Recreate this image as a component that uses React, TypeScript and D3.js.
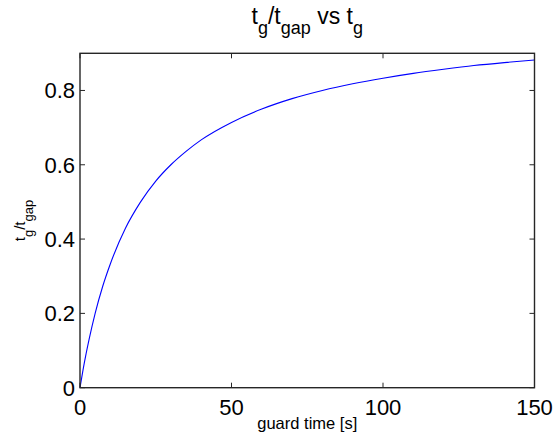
import React from "react";
import * as d3 from "d3";

const guardTime = [0, 1, 2, 3, 5, 7.5, 10, 15, 20, 25, 30, 35, 40, 50, 60, 70, 80, 90, 100, 110, 120, 130, 140, 150];
const ratio = [0, 0.048, 0.091, 0.13, 0.2, 0.273, 0.333, 0.429, 0.5, 0.556, 0.6, 0.636, 0.667, 0.714, 0.75, 0.778, 0.8, 0.818, 0.833, 0.846, 0.857, 0.867, 0.875, 0.882];
const xTicks = [0, 50, 100, 150];
const yTicks = [0, 0.2, 0.4, 0.6, 0.8];
const xLabel = "guard time [s]";

const W = 559, H = 439;
const M = { left: 80, right: 534.5, top: 53.3, bottom: 387.7 };
const FONT = "'Liberation Sans', Arial, Helvetica, sans-serif";
const AX = "#262626";

export default function App() {
  const x = d3.scaleLinear().domain([0, 150]).range([M.left, M.right]);
  const y = d3.scaleLinear().domain([0, 0.9]).range([M.bottom, M.top]);
  const pts: [number, number][] = guardTime.map((t, i) => [t, ratio[i]]);
  const line = d3
    .line<[number, number]>()
    .x((d) => x(d[0]))
    .y((d) => y(d[1]))
    .curve(d3.curveMonotoneX);
  const tl = 5;
  const cx = (M.left + M.right) / 2;
  const cy = (M.top + M.bottom) / 2;
  return (
    <svg width={W} height={H} style={{ position: "absolute", left: 0, top: 0, background: "#fff" }} fontFamily={FONT}>
      <rect x={0} y={0} width={W} height={H} fill="#fff" />
      <path d={line(pts) || ""} fill="none" stroke="#0000ff" strokeWidth={1.1} />
      {xTicks.map((t) => (
        <g key={"x" + t}>
          <line x1={x(t)} x2={x(t)} y1={M.bottom} y2={M.bottom - tl} stroke={AX} strokeWidth={1} />
          <line x1={x(t)} x2={x(t)} y1={M.top} y2={M.top + tl} stroke={AX} strokeWidth={1} />
          <text x={x(t)} y={415} fontSize={22} textAnchor="middle" fill="#000">
            {t}
          </text>
        </g>
      ))}
      {yTicks.map((t) => (
        <g key={"y" + t}>
          <line x1={M.left} x2={M.left + tl} y1={y(t)} y2={y(t)} stroke={AX} strokeWidth={1} />
          <line x1={M.right} x2={M.right - tl} y1={y(t)} y2={y(t)} stroke={AX} strokeWidth={1} />
          <text x={75} y={y(t)} dy="0.36em" fontSize={22} textAnchor="end" fill="#000">
            {t}
          </text>
        </g>
      ))}
      <rect
        x={M.left}
        y={M.top}
        width={M.right - M.left}
        height={M.bottom - M.top}
        fill="none"
        stroke={AX}
        strokeWidth={1.4}
      />
      <text x={cx} y={429} fontSize={16.5} textAnchor="middle" fill="#000">
        {xLabel}
      </text>
      <text x={cx} y={23.5} fontSize={23} textAnchor="middle" fill="#000">
        <tspan>t</tspan>
        <tspan fontSize={18} dy={10.5}>g</tspan>
        <tspan dy={-10.5}>/t</tspan>
        <tspan fontSize={18} dy={10.5}>gap</tspan>
        <tspan dy={-10.5}> vs t</tspan>
        <tspan fontSize={18} dy={10.5}>g</tspan>
      </text>
      <text transform={`translate(25,${cy}) rotate(-90)`} fontSize={15} textAnchor="middle" fill="#000">
        <tspan>t</tspan>
        <tspan fontSize={13} dy={7.5}>g</tspan>
        <tspan dy={-7.5}>/t</tspan>
        <tspan fontSize={13} dy={7.5}>gap</tspan>
      </text>
    </svg>
  );
}
